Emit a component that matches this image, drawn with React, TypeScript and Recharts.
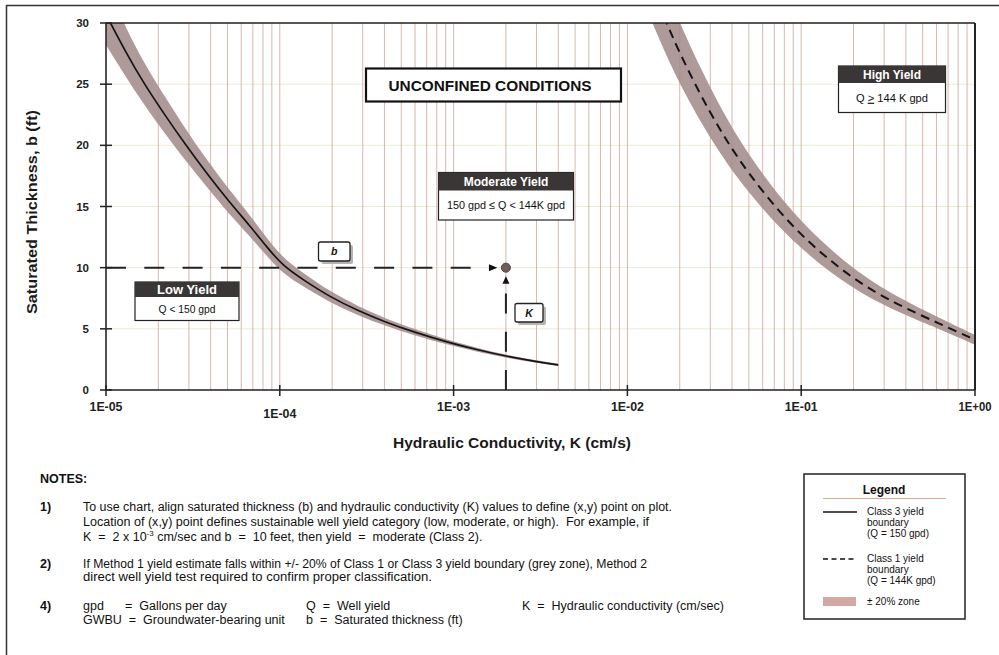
import React from 'react';
import {
  ComposedChart,
  Line,
  Area,
  XAxis,
  YAxis,
  CartesianGrid,
  ReferenceLine,
  ReferenceDot,
} from 'recharts';

const FONT = '"Liberation Sans", Arial, Helvetica, sans-serif';

// Class 3 yield boundary (Q = 150 gpd) - solid line
const class3K = [1.0e-5, 1.3e-5, 1.66e-5, 2.2e-5, 2.85e-5, 3.8e-5, 5.1e-5, 6.75e-5, 8.3e-5, 1.03e-4, 1.4e-4, 1.95e-4, 2.8e-4, 3.95e-4, 6.0e-4, 9.5e-4, 1.4e-3, 2.02e-3, 3.0e-3, 4.0e-3];
const class3B = [30.7, 27.6, 25.0, 22.4, 20.1, 17.7, 15.4, 13.4, 11.8, 10.2, 8.9, 7.6, 6.5, 5.6, 4.7, 3.85, 3.25, 2.75, 2.32, 2.05];
const class3Lo = [28.2, 25.6, 23.3, 20.9, 18.8, 16.6, 14.4, 12.55, 11.05, 9.55, 8.35, 7.15, 6.12, 5.3, 4.45, 3.66, 3.1, 2.63, 2.22, 1.96];
const class3Hi = [33.2, 29.6, 26.7, 23.9, 21.4, 18.8, 16.4, 14.25, 12.55, 10.85, 9.45, 8.05, 6.88, 5.9, 4.95, 4.04, 3.4, 2.87, 2.42, 2.14];

// Class 1 yield boundary (Q = 144K gpd) - dashed line
const class1K = [0.013, 0.0168, 0.0196, 0.0261, 0.034, 0.0425, 0.0605, 0.1007, 0.1995, 0.355, 0.63, 1.0];
const class1B = [34.0, 30.0, 27.8, 24.2, 21.3, 19.1, 16.1, 12.5, 9.0, 7.0, 5.4, 4.1];
const class1Lo = [31.0, 27.3, 25.3, 22.0, 19.4, 17.4, 14.7, 11.4, 8.2, 6.4, 4.95, 3.7];
const class1Hi = [37.0, 32.7, 30.3, 26.4, 23.2, 20.8, 17.5, 13.6, 9.8, 7.6, 5.85, 4.5];

// Example point (K = 2 x 10^-3 cm/sec, b = 10 ft)
const exampleK = 2e-3;
const exampleB = 10;
const exampleGuideEndK = 1.3e-3;
const exampleGuideTopB = 7.95;

const decadeExponents = [-5, -4, -3, -2, -1, 0];
const xTickLabels = ['1E-05', '1E-04', '1E-03', '1E-02', '1E-01', '1E+00'];
const minorMultipliers = [2, 3, 4, 5, 6, 7, 8, 9];
const yTicks = [0, 5, 10, 15, 20, 25, 30];

const xTicks: number[] = [];
decadeExponents.forEach((e) => {
  xTicks.push(Math.pow(10, e));
  if (e < 0) minorMultipliers.forEach((m) => xTicks.push(m * Math.pow(10, e)));
});
xTicks.sort((a, b) => a - b);

type Row = { k: number; c3?: number; c3Band?: [number, number]; c1?: number; c1Band?: [number, number] };
const rows: Row[] = [
  ...class3K.map((k, i) => ({ k, c3: class3B[i], c3Band: [class3Lo[i], class3Hi[i]] as [number, number] })),
  ...class1K.map((k, i) => ({ k, c1: class1B[i], c1Band: [class1Lo[i], class1Hi[i]] as [number, number] })),
];

const XTick = (props: any) => {
  const { x, y, payload } = props;
  const lg = Math.log10(payload.value);
  const isDecade = Math.abs(lg - Math.round(lg)) < 1e-6;
  if (!isDecade) return <g />;
  const label = xTickLabels[Math.round(lg) + 5];
  const dy = label === '1E-04' ? 28 : 21;
  return (
    <g>
      <line x1={x} x2={x} y1={y - 5} y2={y + 6} stroke="#222" strokeWidth={1.5} />
      <text x={x} y={y + dy} textAnchor="middle" fontFamily={FONT} fontWeight="bold" fontSize={12} textLength={33} lengthAdjust="spacingAndGlyphs" fill="#222">
        {label}
      </text>
    </g>
  );
};

const YTick = (props: any) => {
  const { x, y, payload } = props;
  return (
    <g>
      <line x1={x - 6} x2={x + 6} y1={y} y2={y} stroke="#222" strokeWidth={1.5} />
      <text x={x - 17} y={y + 4} textAnchor="end" fontFamily={FONT} fontWeight="bold" fontSize={11.5} fill="#222">
        {payload.value}
      </text>
    </g>
  );
};

const ExampleMarker = (props: any) => {
  const { cx, cy } = props;
  return (
    <g>
      <polygon points={`${cx - 17},${cy - 3.5} ${cx - 8.5},${cy} ${cx - 17},${cy + 3.5}`} fill="#111" />
      <polygon points={`${cx - 3.5},${cy + 16} ${cx},${cy + 8.5} ${cx + 3.5},${cy + 16}`} fill="#111" />
      <circle cx={cx} cy={cy} r={4.5} fill="#6e5d5b" stroke="#4a3f3e" strokeWidth={1} />
    </g>
  );
};

const YieldBox = ({ x, y, w, h, hh, title, titleSize, bodyLen, children }: any) => (
  <g>
    <rect x={x} y={y} width={w} height={h} fill="#fff" stroke="#222" strokeWidth={1.2} />
    <rect x={x} y={y} width={w} height={hh} fill="#3b3636" />
    <text x={x + w / 2} y={y + hh / 2 + 4.3} textAnchor="middle" fontFamily={FONT} fontWeight="bold" fontSize={titleSize || 12} fill="#fff">
      {title}
    </text>
    <text
      x={x + w / 2}
      y={y + hh + (h - hh) / 2 + 4}
      textAnchor="middle"
      fontFamily={FONT}
      fontSize={11.5}
      fill="#111"
      textLength={bodyLen}
      lengthAdjust="spacingAndGlyphs"
      style={{ whiteSpace: 'pre' }}
    >
      {children}
    </text>
  </g>
);

const TagBox = ({ x, y, w, h, label }: any) => (
  <g>
    <rect x={x + 3} y={y + 3} width={w} height={h} rx={2} fill="#b8b2b0" />
    <rect x={x} y={y} width={w} height={h} rx={2} fill="#fff" stroke="#222" strokeWidth={1.3} />
    <text x={x + w / 2} y={y + h / 2 + 3.8} textAnchor="middle" fontFamily={FONT} fontWeight="bold" fontStyle="italic" fontSize={10.5} fill="#111">
      {label}
    </text>
  </g>
);

const pre = { whiteSpace: 'pre' as const };

export default function App() {
  return (
    <div style={{ position: 'fixed', left: 0, top: 0, width: 999, height: 655, background: '#fff', overflow: 'hidden' }}>
      <div style={{ position: 'absolute', left: 0, top: 0 }}>
        <ComposedChart width={999} height={460} data={rows} margin={{ top: 23, right: 24, left: 46, bottom: 0 }}>
          <CartesianGrid horizontal={true} vertical={false} stroke="#f0e9d3" strokeWidth={1} />
          <CartesianGrid horizontal={false} vertical={true} stroke="#c6a196" strokeWidth={0.75} />
          <XAxis
            dataKey="k"
            type="number"
            scale="log"
            domain={[1e-5, 1]}
            allowDataOverflow
            ticks={xTicks}
            interval={0}
            height={70}
            tickSize={0}
            tickMargin={0}
            tickLine={false}
            axisLine={{ stroke: '#222', strokeWidth: 1.5 }}
            tick={<XTick />}
          />
          <YAxis
            type="number"
            domain={[0, 30]}
            allowDataOverflow
            ticks={yTicks}
            interval={0}
            width={60}
            tickSize={0}
            tickMargin={0}
            tickLine={false}
            axisLine={{ stroke: '#222', strokeWidth: 1.5 }}
            tick={<YTick />}
          />
          <Area dataKey="c3Band" type="basis" stroke="none" fill="#a38c8a" fillOpacity={0.88} isAnimationActive={false} />
          <Area dataKey="c1Band" type="basis" stroke="none" fill="#a38c8a" fillOpacity={0.88} isAnimationActive={false} />
          <Line dataKey="c3" type="basis" stroke="#151515" strokeWidth={1.7} dot={false} isAnimationActive={false} />
          <Line dataKey="c1" type="basis" stroke="#151515" strokeWidth={2} strokeDasharray="9 6" dot={false} isAnimationActive={false} />
          <ReferenceLine y={30} stroke="#222" strokeWidth={1.5} />
          <ReferenceLine x={1} stroke="#222" strokeWidth={2} />
          <ReferenceLine
            segment={[{ x: 1e-5, y: exampleB }, { x: exampleGuideEndK, y: exampleB }]}
            stroke="#222"
            strokeWidth={2}
            strokeDasharray="20 18.3"
          />
          <ReferenceLine
            segment={[{ x: exampleK, y: 0 }, { x: exampleK, y: exampleGuideTopB }]}
            stroke="#222"
            strokeWidth={2}
            strokeDasharray="20 18.3"
          />
          <ReferenceDot x={exampleK} y={exampleB} r={4.5} shape={<ExampleMarker />} />
        </ComposedChart>
      </div>
      <svg width={999} height={655} style={{ position: 'absolute', left: 0, top: 0, pointerEvents: 'none' }}>
        {/* frame */}
        <line x1={6.5} x2={6.5} y1={5} y2={655} stroke="#333" strokeWidth={1.5} />
        <line x1={6} x2={999} y1={5.5} y2={5.5} stroke="#333" strokeWidth={1.5} />

        {/* axis titles */}
        <text x={512} y={448} textAnchor="middle" fontFamily={FONT} fontWeight="bold" fontSize={14} textLength={238} lengthAdjust="spacingAndGlyphs" fill="#1a1a1a">
          Hydraulic Conductivity, K (cm/s)
        </text>
        <text
          x={0}
          y={0}
          transform="translate(37,212) rotate(-90)"
          textAnchor="middle"
          fontFamily={FONT}
          fontWeight="bold"
          fontSize={14}
          textLength={204}
          lengthAdjust="spacingAndGlyphs"
          fill="#1a1a1a"
        >
          Saturated Thickness, b (ft)
        </text>

        {/* title box */}
        <rect x={366} y={68.5} width={255} height={33} fill="#fff" stroke="#111" strokeWidth={2.2} />
        <text x={490} y={90.5} textAnchor="middle" fontFamily={FONT} fontWeight="bold" fontSize={15} textLength={203} lengthAdjust="spacingAndGlyphs" fill="#111">
          UNCONFINED CONDITIONS
        </text>

        <YieldBox x={438.5} y={172.5} w={135} h={47.5} hh={18} title="Moderate Yield" bodyLen={118}>
          150 gpd ≤ Q &lt; 144K gpd
        </YieldBox>
        <YieldBox x={838.5} y={66} w={107} h={46.5} hh={17} title="High Yield" bodyLen={72}>
          {'Q '}
          <tspan style={{ textDecoration: 'underline' }}>&gt;</tspan>
          {' 144 K gpd'}
        </YieldBox>
        <YieldBox x={135} y={282} w={104} h={38.5} hh={15} title="Low Yield" titleSize={13} bodyLen={57}>
          Q &lt; 150 gpd
        </YieldBox>

        <TagBox x={318.5} y={242} w={31.5} h={19} label="b" />
        <TagBox x={515} y={303.5} w={28} h={18.5} label="K" />

        {/* notes */}
        <g fontFamily={FONT} fontSize={12.5} fill="#111">
          <text x={40} y={483} fontWeight="bold">NOTES:</text>
          <text x={40} y={511} fontWeight="bold">1)</text>
          <text x={83} y={511} style={pre} textLength={589} lengthAdjust="spacingAndGlyphs">
            To use chart, align saturated thickness (b) and hydraulic conductivity (K) values to define (x,y) point on plot.
          </text>
          <text x={83} y={526} style={pre} textLength={566} lengthAdjust="spacingAndGlyphs">
            Location of (x,y) point defines sustainable well yield category (low, moderate, or high).  For example, if
          </text>
          <text x={83} y={541} style={pre}>
            {'K  =  2 x 10'}
            <tspan dy={-5} fontSize={8}>-3</tspan>
            <tspan dy={5}>{' cm/sec and b  =  10 feet, then yield  =  moderate (Class 2).'}</tspan>
          </text>
          <text x={40} y={568} fontWeight="bold">2)</text>
          <text x={83} y={568} style={pre} textLength={564} lengthAdjust="spacingAndGlyphs">
            If Method 1 yield estimate falls within +/- 20% of Class 1 or Class 3 yield boundary (grey zone), Method 2
          </text>
          <text x={83} y={581} style={pre} textLength={349} lengthAdjust="spacingAndGlyphs">
            direct well yield test required to confirm proper classification.
          </text>
          <text x={40} y={610} fontWeight="bold">4)</text>
          <text x={83} y={610} style={pre}>gpd</text>
          <text x={125} y={610} style={pre}>=  Gallons per day</text>
          <text x={83} y={624} style={pre}>GWBU  =  Groundwater-bearing unit</text>
          <text x={306} y={610} style={pre}>Q  =  Well yield</text>
          <text x={306} y={624} style={pre}>b  =  Saturated thickness (ft)</text>
          <text x={522} y={610} style={pre}>K  =  Hydraulic conductivity (cm/sec)</text>
        </g>

        {/* legend */}
        <rect x={804} y={474} width={161} height={145} fill="#fff" stroke="#222" strokeWidth={1.5} />
        <text x={884} y={494} textAnchor="middle" fontFamily={FONT} fontWeight="bold" fontSize={12} fill="#111">
          Legend
        </text>
        <line x1={823} x2={946} y1={498.5} y2={498.5} stroke="#e3a98a" strokeWidth={1} />
        <line x1={823} x2={857} y1={512} y2={512} stroke="#111" strokeWidth={1.6} />
        <line x1={823} x2={857} y1={559} y2={559} stroke="#111" strokeWidth={1.6} strokeDasharray="5 3.5" />
        <rect x={823} y={597} width={33} height={9} fill="#d2a8a5" />
        <g fontFamily={FONT} fontSize={10} fill="#111">
          <text x={867} y={515}>Class 3 yield</text>
          <text x={867} y={525.5}>boundary</text>
          <text x={867} y={537}>(Q = 150 gpd)</text>
          <text x={867} y={562}>Class 1 yield</text>
          <text x={867} y={572.5}>boundary</text>
          <text x={867} y={584}>(Q = 144K gpd)</text>
          <text x={867} y={605}>± 20% zone</text>
        </g>
      </svg>
    </div>
  );
}
